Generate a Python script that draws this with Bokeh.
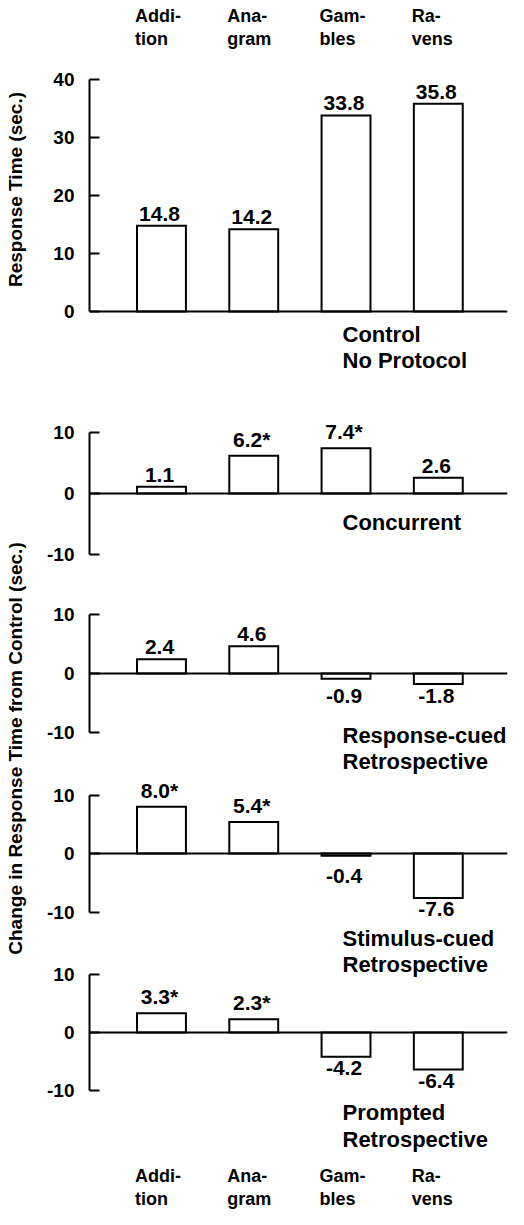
import math
from bokeh.plotting import figure
from bokeh.layouts import row, column
from bokeh.models import Range1d, FixedTicker, Span, Label
from bokeh.core.properties import value
from bokeh.embed import file_html
from bokeh.resources import INLINE

# ---------------- data ----------------
task_line1 = ["Addi-", "Ana-", "Gam-", "Ra-"]
task_line2 = ["tion", "gram", "bles", "vens"]

control = [14.8, 14.2, 33.8, 35.8]
control_ticks = [0, 10, 20, 30, 40]

concurrent = [1.1, 6.2, 7.4, 2.6]
concurrent_sig = [False, True, True, False]
response_cued = [2.4, 4.6, -0.9, -1.8]
response_cued_sig = [False, False, False, False]
stimulus_cued = [8.0, 5.4, -0.4, -7.6]
stimulus_cued_sig = [True, True, False, False]
prompted = [3.3, 2.3, -4.2, -6.4]
prompted_sig = [True, True, False, False]
change_ticks = [-10, 0, 10]

title_control = "Response Time (sec.)"
title_change = "Change in Response Time from Control (sec.)"

# ---------------- layout / style ----------------
FONT = "Liberation Sans"
TICK_FS = "19px"
VAL_FS = "21px"
NOTE_FS = "22px"
CAT_FS = "18px"
TITLE_FS = "19px"

PAGE_TOP = 8
PAGE_BOTTOM = 1217
STRIP_L = 8
STRIP_W = 32
FIG_L = STRIP_L + STRIP_W
FRAME_L = 97
FRAME_R = 515
FIG_R = 521
X_START, X_END = 0.22, 4.75
BAR_W = 0.53
NOTE_X = 350
NEG_LABEL_MIN = 2.0   # small negative bars: keep their label clear of the zero line


def xd(px):
    return X_START + (px - FRAME_L) * (X_END - X_START) / (FRAME_R - FRAME_L)


def make_panel(vals, sig, ticks, top, bottom, zero, scale, notes=(), cats=()):
    def yd(py):
        return (zero - py) / scale

    p = figure(width=FIG_R - FIG_L, height=bottom - top,
               x_range=Range1d(X_START, X_END),
               y_range=Range1d(yd(bottom), yd(top)),
               x_axis_location=None, output_backend="svg", toolbar_location=None,
               min_border_left=FRAME_L - FIG_L, min_border_right=FIG_R - FRAME_R,
               min_border_top=0, min_border_bottom=0)
    p.outline_line_color = None
    p.grid.visible = False
    p.background_fill_color = "white"
    p.border_fill_color = "white"

    ax = p.yaxis[0]
    ax.ticker = FixedTicker(ticks=ticks)
    ax.major_label_overrides = {t: str(t) for t in ticks}
    ax.bounds = (ticks[0], ticks[-1])
    ax.axis_line_width = 2
    ax.axis_line_color = "black"
    ax.major_tick_line_width = 2
    ax.major_tick_line_color = "black"
    ax.major_tick_in = 10
    ax.major_tick_out = 0
    ax.minor_tick_line_color = None
    ax.major_label_standoff = 15
    ax.major_label_text_font = FONT
    ax.major_label_text_font_style = "bold"
    ax.major_label_text_font_size = TICK_FS
    ax.major_label_text_color = "black"

    xs = [i + 1 for i in range(len(vals))]
    p.vbar(x=xs, bottom=0, top=vals, width=BAR_W, fill_color="white",
           line_color="black", line_width=2, line_join="miter")
    p.add_layout(Span(location=0, dimension="width", line_color="black", line_width=2))

    labels = [f"{v:.1f}" + ("*" if s else "") for v, s in zip(vals, sig)]
    pos = [(x, v, t) for x, v, t in zip(xs, vals, labels) if v >= 0]
    neg = [(x, min(v, -NEG_LABEL_MIN), t) for x, v, t in zip(xs, vals, labels) if v < 0]
    if pos:
        p.text(x=[a[0] for a in pos], y=[a[1] for a in pos], text=[a[2] for a in pos],
               text_align="center", text_baseline="bottom", x_offset=-2, y_offset=-5,
               text_font=value(FONT), text_font_style="bold", text_font_size=VAL_FS,
               text_color="black")
    if neg:
        p.text(x=[a[0] for a in neg], y=[a[1] for a in neg], text=[a[2] for a in neg],
               text_align="center", text_baseline="top", x_offset=-2, y_offset=4,
               text_font=value(FONT), text_font_style="bold", text_font_size=VAL_FS,
               text_color="black")

    for txt, py in notes:
        p.add_layout(Label(x=xd(NOTE_X), y=yd(py), text=txt, text_align="left",
                           text_baseline="middle", text_font=FONT, text_font_style="bold",
                           text_font_size=NOTE_FS, text_color="black"))
    for names, py in cats:
        for x, name in zip(xs, names):
            p.add_layout(Label(x=x - BAR_W / 2, y=yd(py), x_offset=-2, text=name,
                               text_align="left", text_baseline="middle", text_font=FONT,
                               text_font_style="bold", text_font_size=CAT_FS,
                               text_color="black"))
    return p


pA = make_panel(control, [False] * 4, control_ticks, PAGE_TOP, 405, 319, 5.8,
                notes=[("Control", 342), ("No Protocol", 368)],
                cats=[(task_line1, 23), (task_line2, 46)])
pB = make_panel(concurrent, concurrent_sig, change_ticks, 405, 592, 501, 6.1,
                notes=[("Concurrent", 530)])
pC = make_panel(response_cued, response_cued_sig, change_ticks, 592, 787, 681, 5.9,
                notes=[("Response-cued", 743), ("Retrospective", 769)])
pD = make_panel(stimulus_cued, stimulus_cued_sig, change_ticks, 787, 931, 861, 5.85)
pE = make_panel(prompted, prompted_sig, change_ticks, 931, PAGE_BOTTOM, 1040, 5.8,
                notes=[("Stimulus-cued", 946), ("Retrospective", 972),
                       ("Prompted", 1120), ("Retrospective", 1147)],
                cats=[(task_line1, 1183), (task_line2, 1206)])

strip = figure(width=STRIP_W, height=PAGE_BOTTOM - PAGE_TOP,
               x_range=Range1d(STRIP_L, FIG_L), y_range=Range1d(PAGE_BOTTOM, PAGE_TOP),
               x_axis_location=None, y_axis_location=None, output_backend="svg",
               toolbar_location=None, min_border=0)
strip.outline_line_color = None
strip.grid.visible = False
strip.add_layout(Label(x=23, y=197, text=title_control, angle=math.pi / 2,
                       text_align="center", text_baseline="middle", text_font=FONT,
                       text_font_style="bold", text_font_size=TITLE_FS, text_color="black"))
strip.add_layout(Label(x=23, y=756, text=title_change, angle=math.pi / 2,
                       text_align="center", text_baseline="middle", text_font=FONT,
                       text_font_style="bold", text_font_size=TITLE_FS, text_color="black"))

layout = row(strip, column(pA, pB, pC, pD, pE, spacing=0), spacing=0)

with open("out.html", "w") as f:
    f.write(file_html(layout, INLINE))
